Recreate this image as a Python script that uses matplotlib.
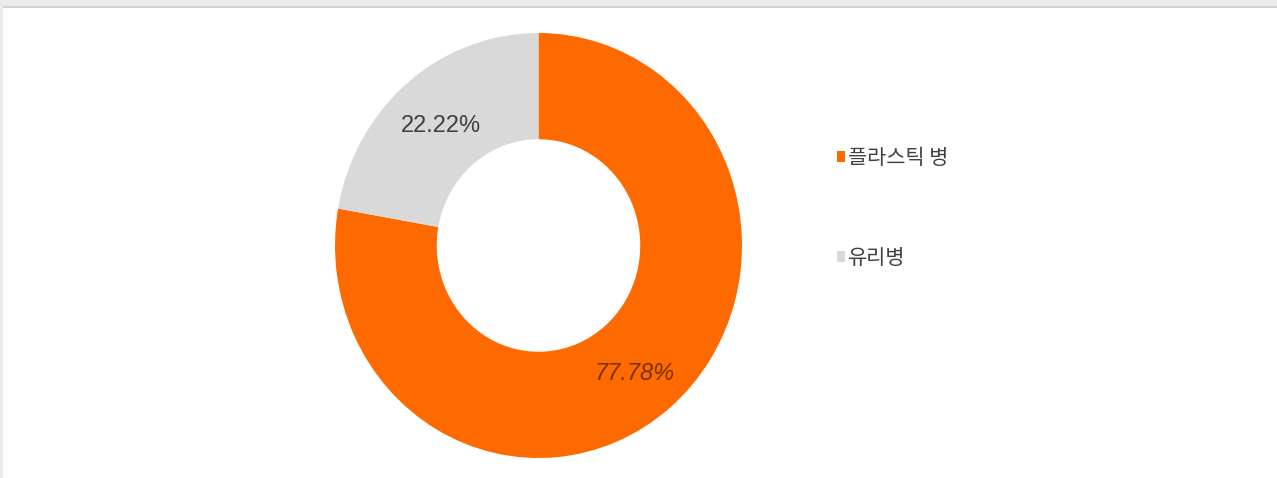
import matplotlib.pyplot as plt
from matplotlib.patches import Rectangle

# bottle share data
labels = ['플라스틱 병', '유리병']
shares = [77.78, 22.22]
colors = ['#FF6A00', '#D9D9D9']
pct_colors = ['#7A3000', '#404040']
pct_styles = ['italic', 'normal']

W, H = 1277, 478


def main():
    fig = plt.figure(figsize=(W / 100, H / 100), dpi=100)
    fig.patch.set_facecolor('white')

    # grey frame on the top and left edges
    fig.add_artist(Rectangle((0, 0), 3 / W, 1, transform=fig.transFigure, color='#EBEBEB', lw=0))
    fig.add_artist(Rectangle((0, 1 - 6 / H), 1, 6 / H, transform=fig.transFigure, color='#EBEBEB', lw=0))
    fig.add_artist(Rectangle((3 / W, 1 - 8 / H), 1, 2 / H, transform=fig.transFigure, color='#D2D2D2', lw=0))

    ax = fig.add_axes([335 / W, 20 / H, 407 / W, 425 / H])
    wedges, _, autotexts = ax.pie(shares, colors=colors, startangle=90, counterclock=False,
                                  radius=1.0, wedgeprops=dict(width=0.5, linewidth=0),
                                  autopct=lambda p: f'{p:.2f}%', pctdistance=0.75)
    ax.set_aspect('auto')
    ax.set_xlim(-1, 1)
    ax.set_ylim(-1, 1)

    for t, c, s in zip(autotexts, pct_colors, pct_styles):
        t.set_color(c)
        t.set_fontstyle(s)
        t.set_fontsize(17)
        t.set_family(['Liberation Sans', 'DejaVu Sans'])
    autotexts[0].set_position((0.47, -0.60))
    autotexts[1].set_position((-0.48, 0.56))

    leg = fig.legend(wedges, labels, loc='center left', bbox_to_anchor=(827 / W, 1 - 208 / H),
                     frameon=False, handlelength=0.38, handleheight=0.38, handletextpad=0.12,
                     labelspacing=3.75, borderpad=0,
                     prop={'family': ['Noto Sans CJK KR', 'DejaVu Sans'], 'size': 15})
    for txt in leg.get_texts():
        txt.set_color('#404040')

    fig.savefig('out.png', dpi=100)


if __name__ == '__main__':
    main()
